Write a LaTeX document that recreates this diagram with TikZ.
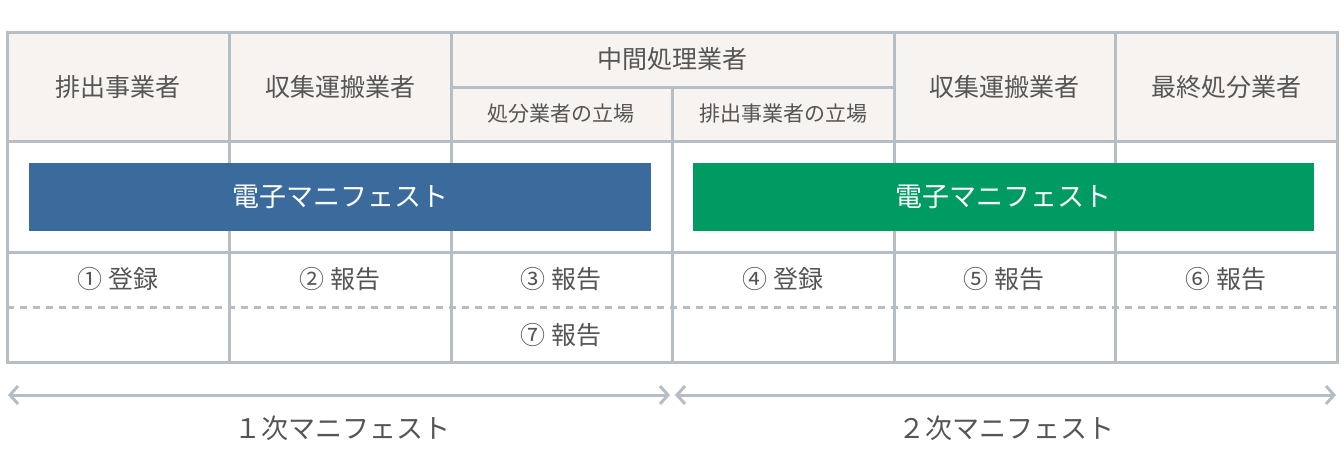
\documentclass[tikz,border=0pt]{standalone}
\usepackage{fontspec}
\setmainfont{Noto Sans CJK JP}
\usetikzlibrary{arrows.meta}
\definecolor{gl}{HTML}{B4BEC4}
\definecolor{hd}{HTML}{F7F3F0}
\definecolor{bl}{HTML}{3A6B9C}
\definecolor{gr}{HTML}{009B63}
\definecolor{tx}{HTML}{555555}
\begin{document}
\begin{tikzpicture}[x=1pt,y=-1pt,
 grid/.style={draw=gl,line width=3pt},
 hdr/.style={text=tx,font=\fontsize{25}{28}\selectfont},
 sub/.style={text=tx,font=\fontsize{21}{24}\selectfont},
 bar/.style={text=white,font=\fontsize{27}{30}\selectfont},
 cell/.style={text=tx,font=\fontsize{25}{28}\selectfont},
 arr/.style={draw=gl,line width=3pt,{Straight Barb[length=8pt,width=18pt]}-{Straight Barb[length=8pt,width=18pt]}}]
\useasboundingbox (0,0) rectangle (1344,472);
\fill[hd] (7,32) rectangle (1337,141);
\fill[white] (7,141) rectangle (1337,362);
% grid
\draw[grid] (7,32) rectangle (1337,362);
\draw[grid] (7,141) -- (1337,141);
\draw[grid] (7,252) -- (1337,252);
\draw[grid] (451,87) -- (894,87);
\foreach \x in {229,451,894,1115} \draw[grid] (\x,32) -- (\x,362);
\draw[grid] (672,87) -- (672,362);
\draw[draw=gl,line width=3pt,dash pattern=on 7pt off 6pt] (7,307) -- (1337,307);
% bars
\node[fill=bl,minimum width=622pt,minimum height=68pt,inner sep=0,bar] (b1) at (340,197) {電子マニフェスト};
\node[fill=gr,minimum width=621pt,minimum height=68pt,inner sep=0,bar] (b2) at (1003.5,197) {電子マニフェスト};
% headers
\node[hdr] (h1) at (118,87) {排出事業者};
\node[hdr] (h2) at (340,87) {収集運搬業者};
\node[hdr] (h3) at (672,59) {中間処理業者};
\node[sub] (h3a) at (561,114) {処分業者の立場};
\node[sub] (h3b) at (783,114) {排出事業者の立場};
\node[hdr] (h4) at (1004,87) {収集運搬業者};
\node[hdr] (h5) at (1226,87) {最終処分業者};
% cells
\node[cell] (c1) at (118,279) {① 登録};
\node[cell] (c2) at (340,279) {② 報告};
\node[cell] (c3) at (561,279) {③ 報告};
\node[cell] (c4) at (783,279) {④ 登録};
\node[cell] (c5) at (1004,279) {⑤ 報告};
\node[cell] (c6) at (1226,279) {⑥ 報告};
\node[cell] (c7) at (561,335) {⑦ 報告};
% arrows
\coordinate (a1) at (8,395); \coordinate (a2) at (670,395);
\coordinate (a3) at (675,395); \coordinate (a4) at (1336,395);
\draw[arr] (a1) -- (a2);
\draw[arr] (a3) -- (a4);
\node[cell,font=\fontsize{27}{30}\selectfont] (l1) at (342,428) {１次マニフェスト};
\node[cell,font=\fontsize{27}{30}\selectfont] (l2) at (1006,428) {２次マニフェスト};
\end{tikzpicture}
\end{document}
